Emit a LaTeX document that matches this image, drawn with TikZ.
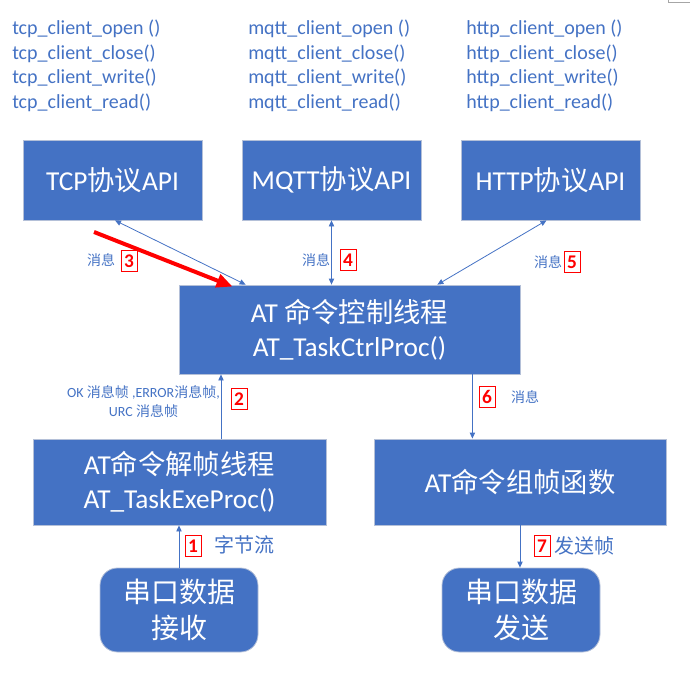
\documentclass[tikz,border=0pt]{standalone}
\usepackage{fontspec}
\setmainfont{Carlito}
\newfontfamily\cjk{Noto Sans CJK SC}
\usetikzlibrary{calc,positioning,arrows.meta}
\definecolor{ATBlue}{HTML}{4472C4}
\definecolor{ATEdge}{HTML}{B4C0D8}
\definecolor{ATRed}{HTML}{FF0000}
\newcommand{\zh}[1]{{\cjk #1}}

\begin{document}
\begin{tikzpicture}[x=0.75pt,y=-0.75pt,
    bx/.style={draw=ATEdge,fill=ATBlue,line width=0.6pt,text=white,font=\fontsize{20.5pt}{25.5pt}\selectfont,align=center,inner sep=0pt},
    rx/.style={bx,rounded corners=13pt,minimum width=118.5pt,minimum height=63pt,font=\cjk\fontsize{21pt}{27pt}\selectfont},
    fn/.style={text=ATBlue,font=\fontsize{15pt}{18pt}\selectfont,anchor=base west,inner sep=0pt},
    lb/.style={text=ATBlue,font=\fontsize{10.5pt}{14.25pt}\selectfont,align=center,inner sep=0pt},
    tx/.style={text=ATBlue,font=\cjk\fontsize{15pt}{18pt}\selectfont,inner sep=0pt},
    nm/.style={draw=ATRed,fill=white,text=ATRed,font=\fontsize{14.5pt}{15pt}\selectfont\bfseries,minimum width=12pt,minimum height=15.5pt,inner sep=0pt,line width=0.6pt},
    ar/.style={-{Triangle[length=4.5pt,width=4pt]},line width=0.6pt,color=ATBlue},
    ar2/.style={{Triangle[length=4.5pt,width=4pt]}-{Triangle[length=4.5pt,width=4pt]},line width=0.6pt,color=ATBlue},
    rd/.style={-{Triangle[length=12pt,width=10pt]},line width=3pt,color=ATRed}]
  \useasboundingbox (0,0) rectangle (690,685);
  \draw[black!35,line width=0.6pt] (668,0) -- (668,2) -- (690,2);
  % API function lists
  \foreach \p/\x in {tcp/12,mqtt/248,http/466}{
    \foreach \f [count=\i] in {open (),close(),write(),read()}{
      \node[fn] (\p f\i) at (\x,10.5+24.5*\i) {\p\_client\_\f};
    }
  }
  % boxes
  \node[bx,minimum width=134.25pt,minimum height=60pt] (tcp) at (112.5,180) {TCP\zh{协议}API};
  \node[bx,minimum width=134.25pt,minimum height=60pt] (mqtt) at (331.5,180) {MQTT\zh{协议}API};
  \node[bx,minimum width=134.25pt,minimum height=60pt] (http) at (550.5,180) {HTTP\zh{协议}API};
  \node[bx,minimum width=255.75pt,minimum height=66.75pt] (ctrl) at (349.5,329.5) {AT \zh{命令控制线程}\\AT\_TaskCtrlProc()};
  \node[bx,minimum width=219.75pt,minimum height=64.5pt] (dec) at (179.5,482) {AT\zh{命令解帧线程}\\AT\_TaskExeProc()};
  \node[bx,minimum width=219pt,minimum height=64.5pt] (cmp) at (520,482) {AT\zh{命令组帧函数}};
  \node[rx] (recv) at (179,610) {串口数据\\接收};
  \node[rx] (send) at (521,610) {串口数据\\发送};
  % connectors
  \coordinate (r0) at (94,232);
  \coordinate (c2) at ($(dec.north)+(41.5,0)$);
  \coordinate (c6) at ($(ctrl.south east)+(-48,0)$);
  \draw[ar2] ($(tcp.south)+(2.5,0)$) -- ($(ctrl.north west)+(67,0)$);
  \draw[rd] (r0) -- ($(ctrl.north west)+(54,2)$);
  \draw[ar2] (mqtt.south) -- (mqtt.south |- ctrl.north);
  \draw[ar2] ($(http.south)+(-4,0)$) -- ($(ctrl.north east)+(-83,0)$);
  \draw[ar] (c2) -- (c2 |- ctrl.south);
  \draw[ar] (c6) -- (c6 |- cmp.north);
  \draw[ar] (recv.north) -- (recv.north |- dec.south);
  \draw[ar] (cmp.south) -- (cmp.south |- send.north);
  % labels
  \node[lb] (m3) at (101,260) {\zh{消息}};
  \node[nm] (n3) at (129,261) {3};
  \node[lb] (m4) at (316,260) {\zh{消息}};
  \node[nm] (n4) at (348,260) {4};
  \node[lb] (m5) at (548,262) {\zh{消息}};
  \node[nm] (n5) at (572,262) {5};
  \node[lb] (f2) at (143.5,402) {OK \zh{消息帧} ,ERROR\zh{消息帧},\\URC \zh{消息帧}};
  \node[nm] (n2) at (239,399) {2};
  \node[nm] (n6) at (487,397) {6};
  \node[lb] (m6) at (525,397) {\zh{消息}};
  \node[nm] (n1) at (193,546) {1};
  \node[tx] (t1) at (244,545) {字节流};
  \node[nm] (n7) at (542,546) {7};
  \node[tx] (t7) at (584,546) {发送帧};
\end{tikzpicture}
\end{document}
